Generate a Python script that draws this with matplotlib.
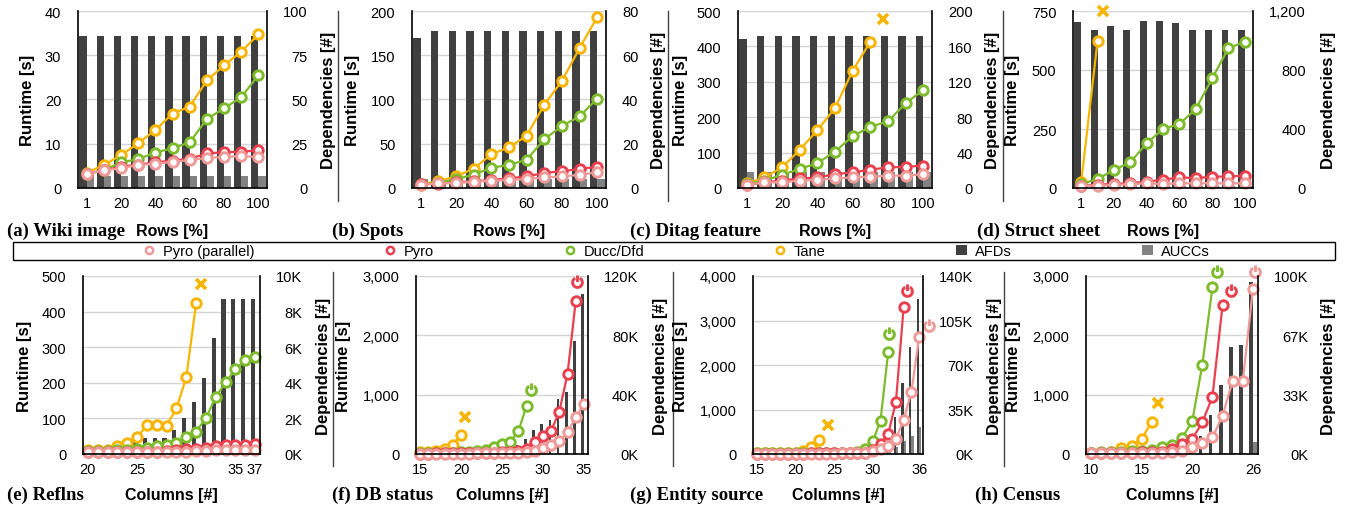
import numpy as np
import matplotlib
matplotlib.use("Agg")
import matplotlib.pyplot as plt
from matplotlib.path import Path
from matplotlib.lines import Line2D
from matplotlib.patches import Patch, Rectangle

W, H = 1348, 510
plt.rcParams['font.family'] = ['Liberation Sans', 'DejaVu Sans']

# ------------------------------------------------------------------ data
rows_pct = ['1', '10', '20', '30', '40', '50', '60', '70', '80', '90', '100']
rows_ticks = ['1', '20', '40', '60', '80', '100']

# (a) Wiki image
a_tane = [3.4, 5.2, 7.4, 10.1, 13.1, 16.8, 18.4, 24.3, 27.7, 30.8, 34.7]
a_ducc = [3.2, 4.0, 5.8, 6.5, 8.0, 9.0, 10.3, 15.6, 18.0, 20.5, 25.5]
a_pyro = [3.2, 4.0, 4.8, 5.3, 5.8, 6.2, 6.6, 7.8, 8.1, 8.2, 8.5]
a_ppar = [3.2, 4.0, 4.5, 5.2, 5.5, 5.9, 6.3, 6.8, 7.0, 7.2, 7.0]
a_afd = [86, 86, 86, 86, 86, 86, 86, 86, 86, 86, 86]
a_aucc = [7, 7, 7, 7, 7, 7, 7, 7, 7, 7, 7]

# (b) Spots
b_tane = [3.8, 8, 13, 22, 38, 46, 59, 94, 121, 158, 193]
b_ducc = [4, 6, 10, 15, 23, 26, 32, 55, 70, 81, 101]
b_pyro = [4, 5, 6.4, 7.5, 9, 11, 13, 17, 19, 21.4, 24]
b_ppar = [3.8, 5.3, 5.6, 7, 8.3, 9, 10, 12, 13, 15, 17.7]
b_afd = [68, 71, 71, 71, 71, 71, 71, 71, 71, 71, 71]
b_aucc = [4, 4, 4, 4, 4, 4, 4, 4, 4, 4, 4]

# (c) Ditag feature
c_tane = [13, 30, 58, 108, 163, 226, 331, 413]
c_ducc = [11, 21, 37, 54, 70, 103, 146, 173, 188, 239, 277]
c_pyro = [9, 16, 21, 27, 30, 39, 44, 52, 58, 60, 63]
c_ppar = [9, 16, 16, 21, 23, 27, 30, 32, 35, 35, 39]
c_afd = [168, 172, 172, 172, 172, 172, 172, 172, 172, 172, 172]
c_aucc = [18, 18, 18, 18, 18, 18, 18, 18, 18, 18, 18]
c_tane_fail = (7.7, 476)

# (d) Struct sheet
d_tane = [24, 623]
d_ducc = [17, 38, 76, 109, 189, 250, 271, 334, 464, 592, 620]
d_pyro = [10, 14, 17, 21, 27, 35, 45, 42, 48, 49, 52]
d_ppar = [10, 10, 13, 16, 20, 17, 20, 20, 20, 20, 20]
d_afd = [1125, 1070, 1100, 1070, 1135, 1135, 1120, 1070, 1070, 1070, 1070]
d_aucc = [15, 15, 15, 15, 15, 15, 15, 15, 15, 15, 15]
d_tane_fail = (1.35, 748)

# (e) Reflns, columns 20..37
e_cols = ['20', '21', '22', '23', '24', '25', '26', '27', '28', '29', '30', '31',
          '32', '33', '34', '35', '36', '37']
e_tane = [12, 12, 12, 22, 31, 47, 81, 82, 80, 128, 215, 423]
e_ducc = [8, 8, 9, 10, 12, 15, 18, 22, 26, 31, 47, 63, 101, 160, 201, 238, 264, 273]
e_pyro = [6, 6, 6, 6, 6, 6, 6, 7, 8, 10, 13, 15, 18, 22, 25, 26, 26, 28]
e_ppar = [6, 6, 6, 6, 6, 6, 6, 6, 6, 7, 7, 8, 9, 10, 12, 11, 12, 12]
e_afd = [100, 150, 200, 300, 600, 700, 900, 900, 900, 1360, 2000, 2940, 4270, 6500,
         8700, 8700, 8700, 8700]
e_aucc = [10, 10, 10, 10, 10, 10, 10, 10, 10, 10, 10, 10, 10, 10, 10, 10, 10, 10]
e_tane_fail = (31.55, 477)
e_timeouts = []

# (f) DB status, columns 15..35
f_cols = ['15', '16', '17', '18', '19', '20', '21', '22', '23', '24', '25', '26', '27',
          '28', '29', '30', '31', '32', '33', '34', '35']
f_tane = [28, 28, 45, 84, 157, 320]
f_ducc = [10, 12, 15, 18, 22, 28, 36, 50, 73, 113, 165, 200, 382, 815]
f_pyro = [8, 8, 9, 10, 11, 12, 13, 15, 18, 22, 28, 38, 50, 84, 197, 309, 393, 713,
          1348, 2574]
f_ppar = [6, 6, 6, 7, 7, 8, 8, 9, 10, 11, 12, 14, 18, 34, 56, 101, 157, 225, 365,
          618, 843]
f_afd = [200, 250, 300, 400, 500, 600, 700, 800, 1000, 1200, 1500, 2500, 6000, 10000,
         16000, 20000, 23000, 37000, 42000, 76000, 108000]
f_aucc = [100, 100, 100, 100, 100, 100, 100, 100, 100, 100, 100, 100, 100, 100, 100,
          100, 100, 100, 100, 100, 100]
f_tane_fail = (20.5, 618)
f_timeouts = [('ducc', 28.6, 1084), ('pyro', 34.1, 2893)]

# (g) Entity source, columns 15..36
g_cols = ['15', '16', '17', '18', '19', '20', '21', '22', '23', '24', '25', '26', '27',
          '28', '29', '30', '31', '32', '33', '34', '35', '36']
g_tane = [15, 15, 15, 18, 20, 25, 60, 150, 315]
g_ducc = [12, 12, 12, 13, 13, 14, 15, 16, 18, 20, 22, 25, 30, 53, 112, 285, 749, 2299]
g_pyro = [10, 10, 10, 10, 10, 11, 11, 12, 12, 13, 14, 15, 18, 22, 30, 90, 225, 449,
          1176, 3310]
g_ppar = [8, 8, 8, 8, 8, 9, 9, 9, 10, 10, 11, 12, 13, 15, 20, 60, 112, 187, 337, 771,
          1400, 2636]
g_afd = [50, 60, 70, 80, 90, 100, 120, 140, 160, 200, 250, 300, 350, 400, 500, 700,
         1000, 4000, 29000, 56000, 84000, 122000]
g_aucc = [20, 20, 20, 20, 20, 20, 20, 20, 20, 20, 20, 30, 40, 50, 80, 150, 400, 1500,
          5300, 10500, 14400, 21500]
g_tane_fail = (24.2, 659)
g_timeouts = [('ducc', 32.1, 2697), ('pyro', 34.4, 3670), ('ppar', 37.3, 2883)]

# (h) Census, columns 10..26
h_cols = ['10', '11', '12', '13', '14', '15', '16', '17', '18', '19', '20', '21', '22',
          '23', '24', '25', '26']
h_tane = [20, 25, 39, 96, 141, 253, 545]
h_ducc = [25, 28, 32, 38, 45, 55, 70, 113, 152, 270, 551, 1505, 2820]
h_pyro = [15, 16, 18, 20, 23, 27, 32, 40, 84, 169, 253, 534, 966, 2516]
h_ppar = [12, 13, 14, 15, 16, 18, 20, 25, 35, 56, 113, 185, 280, 646, 1236, 1236, 2781]
h_afd = [30, 40, 50, 60, 80, 100, 120, 150, 200, 500, 3000, 10000, 22000, 39000, 60000,
         61000, 96500]
h_aucc = [20, 20, 20, 20, 20, 20, 20, 20, 20, 20, 50, 100, 200, 300, 400, 500, 6600]
h_tane_fail = (16.6, 861)
h_timeouts = [('ducc', 22.4, 3062), ('pyro', 23.8, 2753), ('ppar', 26.2, 3062)]

# axis ticks
a_lt = [0, 10, 20, 30, 40];          a_rt = [0, 25, 50, 75, 100]
b_lt = [0, 50, 100, 150, 200];       b_rt = [0, 20, 40, 60, 80]
c_lt = [0, 100, 200, 300, 400, 500]; c_rt = [0, 40, 80, 120, 160, 200]
d_lt = [0, 250, 500, 750];           d_rt = [0, 400, 800, 1200]
e_lt = [0, 100, 200, 300, 400, 500]; e_rt = [0, 2000, 4000, 6000, 8000, 10000]
f_lt = [0, 1000, 2000, 3000];        f_rt = [0, 40000, 80000, 120000]
g_lt = [0, 1000, 2000, 3000, 4000];  g_rt = [0, 35000, 70000, 105000, 140000]
h_lt = [0, 1000, 2000, 3000];        h_rt = [0, 100000 / 3, 200000 / 3, 100000]
d_rt_lab = ['0', '400', '800', '1,200']
e_rt_lab = ['0K', '2K', '4K', '6K', '8K', '10K']
f_lt_lab = ['0', '1,000', '2,000', '3,000']
f_rt_lab = ['0K', '40K', '80K', '120K']
g_lt_lab = ['0', '1,000', '2,000', '3,000', '4,000']
g_rt_lab = ['0K', '35K', '70K', '105K', '140K']
h_lt_lab = ['0', '1,000', '2,000', '3,000']
h_rt_lab = ['0K', '33K', '67K', '100K']

# ------------------------------------------------------------------ style
C_TANE = '#F8B500'
C_DUCC = '#7DBB2C'
C_PYRO = '#E8404E'
C_PPAR = '#EE9A98'
C_AFD = '#404040'
C_AUCC = '#828282'
C_GRID = '#D4D4D4'
COLORS = {'tane': C_TANE, 'ducc': C_DUCC, 'pyro': C_PYRO, 'ppar': C_PPAR}

TICK_FS = 10.5
LAB_FS = 11.5
CAP_FS = 13.5
MS = 6.8
MEW = 2.1

arc = Path.arc(118, 422)
stem = Path([(0, 0.1), (0, 1.45)], [Path.MOVETO, Path.LINETO])
TIMEOUT_MARK = Path.make_compound_path(arc, stem)

fig = plt.figure(figsize=(W / 100, H / 100), dpi=100)


def fx(x):
    return x / W


def fy(y):
    return 1 - y / H


right_axes = []


def draw_panel(rect, cats, tick_idx, tick_labels, tane, ducc, pyro, ppar, afd, aucc,
               lt, lt_lab, rt, rt_lab, bar_w, fail, timeouts, first_col,
               caption, cap_x, xlabel, ylx, yrx, base_y):
    L, T, R, B = rect
    ax = fig.add_axes([fx(L), fy(B), (R - L) / W, (B - T) / H])
    ax2 = ax.twinx()
    ax.set_zorder(ax2.get_zorder() + 1)
    ax.patch.set_visible(False)

    n = len(cats)
    x = np.arange(n)
    ax2.bar(x - bar_w / 2, afd, width=bar_w, color=C_AFD, linewidth=0)
    ax2.bar(x + bar_w / 2, aucc, width=bar_w, color=C_AUCC, linewidth=0)
    ax2.set_ylim(rt[0], rt[-1])
    ax2.set_yticks(rt, rt_lab if rt_lab is not None else [str(v) for v in rt])
    ax2.yaxis.grid(True, color=C_GRID, lw=1.0)
    ax2.set_axisbelow(True)
    for s in ax2.spines.values():
        s.set_visible(False)
    ax2.tick_params(axis='y', length=0, labelsize=TICK_FS)
    for lab in ax2.get_yticklabels():
        lab.set_horizontalalignment('right')

    for key, ser in (('tane', tane), ('ducc', ducc), ('pyro', pyro), ('ppar', ppar)):
        ax.plot(np.arange(len(ser)), ser, color=COLORS[key], lw=1.6, marker='o',
                ms=MS, mfc='white', mec=COLORS[key], mew=MEW, clip_on=False,
                solid_joinstyle='round')
    if fail is not None:
        ax.plot([fail[0] - first_col], [fail[1]], ls='none', marker='x', ms=7.5,
                mec=C_TANE, mew=2.6, clip_on=False)
    for key, cx, cy in timeouts:
        ax.plot([cx - first_col], [cy], ls='none', marker=TIMEOUT_MARK, ms=MS * 1.5,
                mfc='none', mec=COLORS[key], mew=MEW, clip_on=False)

    ax.set_xlim(-0.5, n - 0.5)
    ax.set_xticks(tick_idx, tick_labels)
    ax.set_ylim(lt[0], lt[-1])
    ax.set_yticks(lt, lt_lab if lt_lab is not None else [str(v) for v in lt])
    ax.tick_params(axis='x', length=0, pad=5.8, labelsize=TICK_FS)
    ax.tick_params(axis='y', length=0, pad=12, labelsize=TICK_FS)
    ax.spines['top'].set_visible(False)
    for s in ('left', 'right', 'bottom'):
        ax.spines[s].set_color('black')
        ax.spines[s].set_linewidth(1.2)

    yc = (T + B) / 2
    fig.text(fx(ylx), fy(yc), 'Runtime [s]', rotation=90, ha='center', va='center',
             fontsize=12, fontweight='bold')
    fig.text(fx(yrx), fy(yc), 'Dependencies [#]', rotation=90, ha='center',
             va='center', fontsize=12, fontweight='bold')
    fig.text(fx((L + R) / 2), fy(base_y), xlabel, ha='center', va='baseline',
             fontsize=LAB_FS, fontweight='bold')
    fig.text(fx(cap_x), fy(base_y), caption, ha='left', va='baseline',
             fontsize=CAP_FS, fontweight='bold',
             family=['Liberation Serif', 'DejaVu Serif'])
    right_axes.append((ax2, R))


top_ticks_idx = [0, 2, 4, 6, 8, 10]
draw_panel((78, 12, 267, 189), rows_pct, top_ticks_idx, rows_ticks,
           a_tane, a_ducc, a_pyro, a_ppar, a_afd, a_aucc,
           a_lt, None, a_rt, None, 0.42, None, [], 0,
           '(a) Wiki image', 7, 'Rows [%]', 27.5, 328.5, 236)
draw_panel((412, 12, 606, 189), rows_pct, top_ticks_idx, rows_ticks,
           b_tane, b_ducc, b_pyro, b_ppar, b_afd, b_aucc,
           b_lt, None, b_rt, None, 0.42, None, [], 0,
           '(b) Spots', 332, 'Rows [%]', 352, 659, 236)
draw_panel((738, 12, 932, 189), rows_pct, top_ticks_idx, rows_ticks,
           c_tane, c_ducc, c_pyro, c_ppar, c_afd, c_aucc,
           c_lt, None, c_rt, None, 0.42, c_tane_fail, [], 0,
           '(c) Ditag feature', 630, 'Rows [%]', 681, 992, 236)
draw_panel((1073, 12, 1253, 189), rows_pct, top_ticks_idx, rows_ticks,
           d_tane, d_ducc, d_pyro, d_ppar, d_afd, d_aucc,
           d_lt, None, d_rt, d_rt_lab, 0.42, d_tane_fail, [], 0,
           '(d) Struct sheet', 977, 'Rows [%]', 1012, 1329, 236)

draw_panel((83, 277, 260, 455), e_cols, [0, 5, 10, 15, 17], ['20', '25', '30', '35', '37'],
           e_tane, e_ducc, e_pyro, e_ppar, e_afd, e_aucc,
           e_lt, None, e_rt, e_rt_lab, 0.42, e_tane_fail, e_timeouts, 20,
           '(e) Reflns', 7, 'Columns [#]', 25, 323.5, 500)
draw_panel((416, 277, 588, 455), f_cols, [0, 5, 10, 15, 20], ['15', '20', '25', '30', '35'],
           f_tane, f_ducc, f_pyro, f_ppar, f_afd, f_aucc,
           f_lt, f_lt_lab, f_rt, f_rt_lab, 0.3, f_tane_fail, f_timeouts, 15,
           '(f) DB status', 332, 'Columns [#]', 343.5, 661, 500)
draw_panel((753, 277, 923, 455), g_cols, [0, 5, 10, 15, 21], ['15', '20', '25', '30', '36'],
           g_tane, g_ducc, g_pyro, g_ppar, g_afd, g_aucc,
           g_lt, g_lt_lab, g_rt, g_rt_lab, 0.3, g_tane_fail, g_timeouts, 15,
           '(g) Entity source', 630, 'Columns [#]', 681, 994, 500)
draw_panel((1086, 277, 1258, 455), h_cols, [0, 5, 10, 16], ['10', '15', '20', '26'],
           h_tane, h_ducc, h_pyro, h_ppar, h_afd, h_aucc,
           h_lt, h_lt_lab, h_rt, h_rt_lab, 0.36, h_tane_fail, h_timeouts, 10,
           '(h) Census', 975, 'Columns [#]', 1013.5, 1329, 500)

# separators between panels
for xs, y0, y1 in ((338, 12, 202), (668, 12, 202), (1003, 12, 202),
                   (333, 273, 467), (673, 273, 467), (1004, 273, 467)):
    fig.add_artist(Line2D([fx(xs), fx(xs)], [fy(y0), fy(y1)], color='#444444', lw=1.0))

# legend box + legend
fig.add_artist(Rectangle((fx(13), fy(261)), (1335 - 13) / W, 18 / H, fill=False,
                         ec='black', lw=1.0, transform=fig.transFigure))
handles = [
    Line2D([], [], ls='none', marker='o', ms=5.2, mfc='white', mec=C_PPAR, mew=1.8),
    Line2D([], [], ls='none', marker='o', ms=5.2, mfc='white', mec=C_PYRO, mew=1.8),
    Line2D([], [], ls='none', marker='o', ms=5.2, mfc='white', mec=C_DUCC, mew=1.8),
    Line2D([], [], ls='none', marker='o', ms=5.2, mfc='white', mec=C_TANE, mew=1.8),
    Patch(facecolor=C_AFD, edgecolor='none'),
    Patch(facecolor=C_AUCC, edgecolor='none'),
]
labels = ['Pyro (parallel)', 'Pyro', 'Ducc/Dfd', 'Tane', 'AFDs', 'AUCCs']
fig.legend(handles, labels, loc='center', bbox_to_anchor=(fx(677), fy(252)), ncol=6,
           frameon=False, fontsize=10.5, handlelength=0.75, handleheight=0.75,
           handletextpad=0.55, columnspacing=8.95, borderaxespad=0, borderpad=0)

# right tick labels: right-aligned block starting 16 px from the axis
fig.canvas.draw()
renderer = fig.canvas.get_renderer()
for ax2, R in right_axes:
    labs = ax2.get_yticklabels()
    maxw = max(l.get_window_extent(renderer).width for l in labs)
    ax2.tick_params(axis='y', pad=(16 + maxw) * 72 / 100)
    for lab in ax2.get_yticklabels():
        lab.set_horizontalalignment('right')

fig.savefig('out.png', dpi=100)
